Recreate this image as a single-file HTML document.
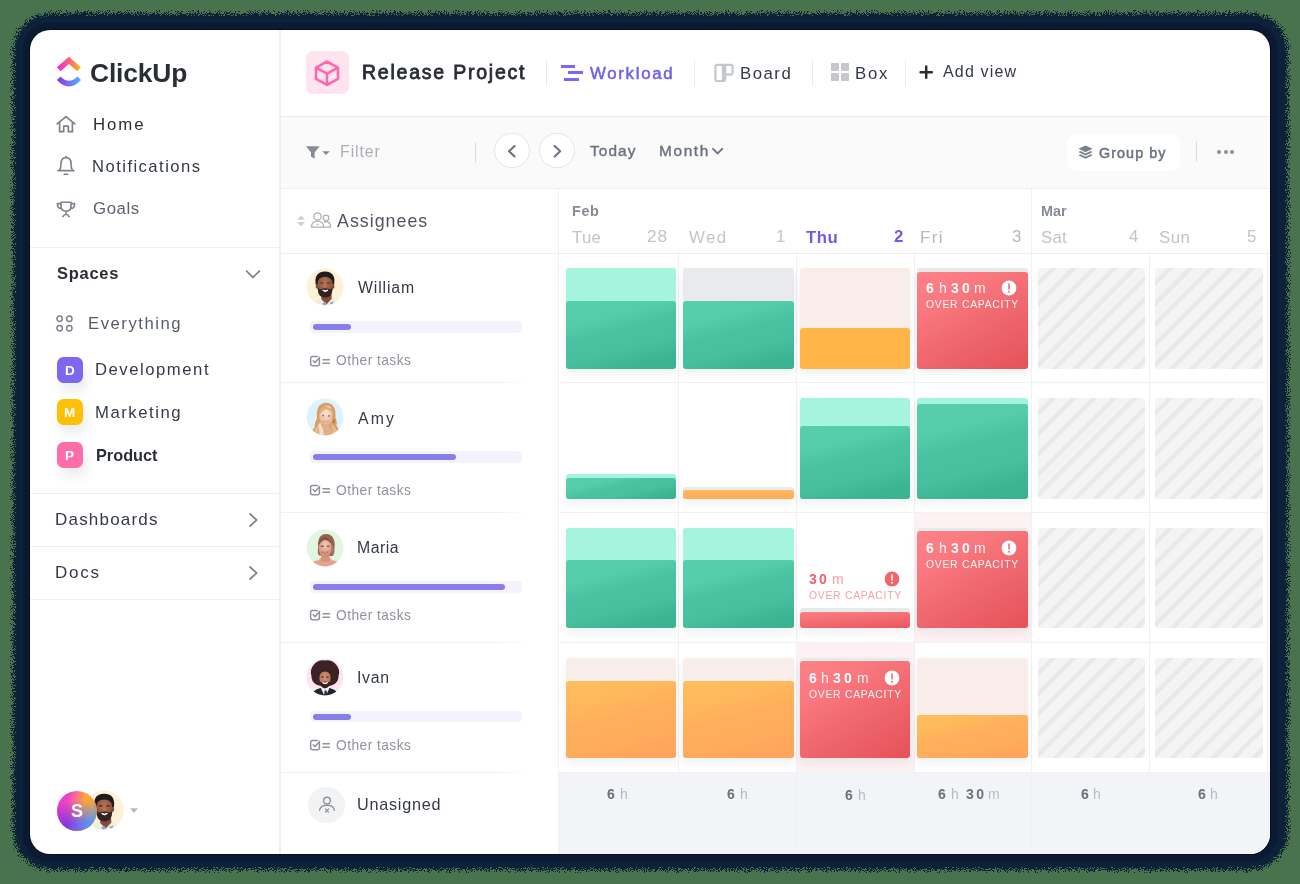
<!DOCTYPE html>
<html><head><meta charset="utf-8"><title>ClickUp Workload</title>
<style>
html,body{margin:0;padding:0}
body{width:1300px;height:884px;background:#49734d;position:relative;overflow:hidden;font-family:"Liberation Sans",sans-serif}
.t{position:absolute;white-space:nowrap;line-height:1;font-family:"Liberation Sans",sans-serif}
#shadow{position:absolute;left:13px;top:12.5px;width:1275px;height:857.5px;border-radius:38px;background:#112138;filter:url(#rough)}
#card{position:absolute;left:30px;top:30px;width:1240px;height:824px;border-radius:20px;background:#fff;overflow:hidden;box-shadow:0 0 0 1px #04102a,0 0 0 7.5px #0a1a33}
#in{position:absolute;left:-30px;top:-30px;width:1300px;height:884px;will-change:transform}
</style></head><body>
<svg width="0" height="0" style="position:absolute"><filter id="rough" x="-2%" y="-2%" width="104%" height="104%"><feTurbulence type="fractalNoise" baseFrequency="0.9" numOctaves="2" seed="7" result="n0"/><feComponentTransfer in="n0" result="n"><feFuncR type="linear" slope="3.2" intercept="-1.1"/><feFuncG type="linear" slope="3.2" intercept="-1.1"/></feComponentTransfer><feDisplacementMap in="SourceGraphic" in2="n" scale="6" xChannelSelector="R" yChannelSelector="G"/></filter></svg>
<div id="shadow"></div>
<div id="card"><div id="in">
<div style="position:absolute;left:279.00px;top:30.00px;width:2.00px;height:824.00px;background:#eff0f2"></div>
<div style="position:absolute;left:30.00px;top:247.00px;width:249.00px;height:1.00px;background:#eff0f2"></div>
<div style="position:absolute;left:30.00px;top:493.00px;width:249.00px;height:1.00px;background:#eff0f2"></div>
<div style="position:absolute;left:30.00px;top:546.00px;width:249.00px;height:1.00px;background:#eff0f2"></div>
<div style="position:absolute;left:30.00px;top:599.00px;width:249.00px;height:1.00px;background:#eff0f2"></div>
<div style="position:absolute;left:281.00px;top:116.00px;width:989.00px;height:72.50px;background:#fafafa;border-top:1.5px solid #e9eaec;border-bottom:1px solid #f0f0f2;box-sizing:border-box"></div>
<svg style="position:absolute;left:56.00px;top:56.00px;" width="26" height="32" viewBox="0 0 26 32"><defs>
<linearGradient id="lg1" x1="0" y1="0" x2="1" y2="0"><stop offset="0" stop-color="#ff1fe0"/><stop offset="0.5" stop-color="#f7607a"/><stop offset="1" stop-color="#ffbe0a"/></linearGradient>
<linearGradient id="lg2" x1="0" y1="0" x2="1" y2="0"><stop offset="0" stop-color="#7a35e8"/><stop offset="0.5" stop-color="#7b72f5"/><stop offset="1" stop-color="#49b4fb"/></linearGradient></defs>
<path d="M0.9 11.2 L13 0.7 L24.9 11.2 L21.3 15.3 L13 8 L4.5 15.3 Z" fill="url(#lg1)"/>
<path d="M0.9 24 L4.6 20.4 Q13 29.2 21.3 20.4 L25 24 Q13 37 0.9 24 Z" fill="url(#lg2)"/></svg>
<div class="t" style="left:90px;top:60px;font-size:26.4px;font-weight:700;color:#292d34;letter-spacing:-0.167px;">ClickUp</div>
<svg style="position:absolute;left:55.00px;top:114.00px;" width="22" height="20" viewBox="0 0 22 20"><path d="M2.2 9.9 L11 2.6 L19.8 9.9 M4.6 8.6 V17.7 H8.7 V12.2 H13.3 V17.7 H17.4 V8.6" fill="none" stroke="#7c828d" stroke-width="1.7" stroke-linecap="round" stroke-linejoin="round"/></svg>
<div class="t" style="left:93px;top:117px;font-size:16.8px;font-weight:400;color:#2a2e34;letter-spacing:1.933px;">Home</div>
<svg style="position:absolute;left:55.00px;top:154.00px;" width="22" height="24" viewBox="0 0 22 24"><path d="M3 16.6 H19 M4.6 16.4 Q6 14 6 9.5 Q6 3.6 11 3.6 Q16 3.6 16 9.5 Q16 14 17.4 16.4 M11 3.4 V2.4 M9.2 20.2 H12.8" fill="none" stroke="#7c828d" stroke-width="1.6" stroke-linecap="round" stroke-linejoin="round"/></svg>
<div class="t" style="left:92px;top:159px;font-size:16.6px;font-weight:400;color:#343a46;letter-spacing:1.467px;">Notifications</div>
<svg style="position:absolute;left:55.00px;top:199.00px;" width="22" height="20" viewBox="0 0 22 20"><path d="M6 3.2 H16 V7.6 Q16 12.2 11 12.2 Q6 12.2 6 7.6 Z M6 4.6 H2.4 Q2.2 9.4 6.4 9.6 M16 4.6 H19.6 Q19.8 9.4 15.6 9.6 M11 12.4 V14.6 M7.8 17.6 Q11 13 14.2 17.6" fill="none" stroke="#7c828d" stroke-width="1.6" stroke-linecap="round" stroke-linejoin="round"/></svg>
<div class="t" style="left:93px;top:201px;font-size:16.8px;font-weight:400;color:#5b626f;letter-spacing:0.600px;">Goals</div>
<div class="t" style="left:57px;top:265px;font-size:16.5px;font-weight:700;color:#2a2e34;letter-spacing:0.720px;">Spaces</div>
<svg style="position:absolute;left:244.00px;top:268.00px;" width="18" height="12" viewBox="0 0 18 12"><path d="M2.6 3.2 L9 9.4 L15.4 3.2" fill="none" stroke="#7c828d" stroke-width="1.7" stroke-linecap="round" stroke-linejoin="round"/></svg>
<svg style="position:absolute;left:55.00px;top:314.00px;" width="20" height="19" viewBox="0 0 20 19"><g fill="none" stroke="#7c828d" stroke-width="1.5"><circle cx="4.6" cy="4.7" r="2.7"/><circle cx="14.3" cy="4.7" r="2.7"/><circle cx="4.6" cy="14.2" r="2.7"/><circle cx="14.3" cy="14.2" r="2.7"/></g></svg>
<div class="t" style="left:88px;top:316px;font-size:16.7px;font-weight:400;color:#555c68;letter-spacing:1.533px;">Everything</div>
<div style="position:absolute;left:56.60px;top:356.50px;width:26.60px;height:26.60px;background:#7b68ee;border-radius:6.5px;box-shadow:3px 8px 11px rgba(60,70,90,0.10)"></div>
<div class="t" style="left:65px;top:364px;font-size:13.5px;font-weight:700;color:#fff;">D</div>
<div class="t" style="left:95px;top:362px;font-size:16.7px;font-weight:400;color:#343a46;letter-spacing:1.520px;">Development</div>
<div style="position:absolute;left:56.60px;top:398.90px;width:26.60px;height:26.60px;background:#fdc005;border-radius:6.5px;box-shadow:3px 8px 11px rgba(60,70,90,0.10)"></div>
<div class="t" style="left:64px;top:406px;font-size:13.5px;font-weight:700;color:#fff;">M</div>
<div class="t" style="left:95px;top:405px;font-size:16.7px;font-weight:400;color:#343a46;letter-spacing:1.525px;">Marketing</div>
<div style="position:absolute;left:56.60px;top:441.60px;width:26.60px;height:26.60px;background:#fd6daa;border-radius:6.5px;box-shadow:3px 8px 11px rgba(60,70,90,0.10)"></div>
<div class="t" style="left:65px;top:449px;font-size:13.5px;font-weight:700;color:#fff;">P</div>
<div class="t" style="left:96px;top:447px;font-size:16.3px;font-weight:700;color:#292d34;">Product</div>
<div class="t" style="left:55px;top:511px;font-size:17px;font-weight:400;color:#343a46;letter-spacing:1.200px;">Dashboards</div>
<svg style="position:absolute;left:246.00px;top:511.00px;" width="14" height="18" viewBox="0 0 14 18"><path d="M4 3 L10.6 9 L4 15" fill="none" stroke="#7c828d" stroke-width="1.7" stroke-linecap="round" stroke-linejoin="round"/></svg>
<div class="t" style="left:55px;top:564px;font-size:17px;font-weight:400;color:#343a46;letter-spacing:1.733px;">Docs</div>
<svg style="position:absolute;left:246.00px;top:564.00px;" width="14" height="18" viewBox="0 0 14 18"><path d="M4 3 L10.6 9 L4 15" fill="none" stroke="#7c828d" stroke-width="1.7" stroke-linecap="round" stroke-linejoin="round"/></svg>
<div style="position:absolute;left:306.00px;top:51.00px;width:42.50px;height:42.50px;background:#ffe3ee;border-radius:7px"></div>
<svg style="position:absolute;left:313.00px;top:58.50px;" width="28" height="28" viewBox="0 0 28 28"><path d="M14 2.6 L25 8.6 V19.8 L14 25.8 L3 19.8 V8.6 Z M3.4 8.9 L14 14.6 L24.6 8.9 M14 14.6 V25.4" fill="none" stroke="#ff66ae" stroke-width="2.5" stroke-linejoin="round" stroke-linecap="round"/></svg>
<div class="t" style="left:362px;top:63px;font-size:19.5px;font-weight:400;color:#292d34;letter-spacing:1.771px;-webkit-text-stroke:0.8px #292d34;">Release Project</div>
<div style="position:absolute;left:546.00px;top:59.50px;width:1.20px;height:26.00px;background:#eaebee"></div>
<div style="position:absolute;left:560.80px;top:64.60px;width:14.40px;height:3.40px;background:#7b68ee"></div>
<div style="position:absolute;left:567.90px;top:71.10px;width:15.60px;height:3.40px;background:#7b68ee"></div>
<div style="position:absolute;left:564.20px;top:77.50px;width:14.80px;height:3.30px;background:#7b68ee"></div>
<div class="t" style="left:590px;top:66px;font-size:16.8px;font-weight:400;color:#7161ea;letter-spacing:1.714px;-webkit-text-stroke:0.55px #7161ea;">Workload</div>
<div style="position:absolute;left:693.60px;top:59.50px;width:1.20px;height:26.00px;background:#eaebee"></div>
<svg style="position:absolute;left:714.00px;top:62.00px;" width="22" height="22" viewBox="0 0 22 22"><path d="M3.4 2.8 H16.6 Q18.6 2.8 18.6 4.8 V10.6 Q18.6 12.6 16.6 12.6 H11.2 V17 Q11.2 19 9.2 19 H3.4 Q1.4 19 1.4 17 V4.8 Q1.4 2.8 3.4 2.8 Z M9 3 V18.6 M11.2 3 V12.4" fill="none" stroke="#c3c6cb" stroke-width="2.2" stroke-linejoin="round"/></svg>
<div class="t" style="left:740px;top:66px;font-size:16.8px;font-weight:400;color:#343a46;letter-spacing:1.500px;">Board</div>
<div style="position:absolute;left:812.00px;top:59.50px;width:1.20px;height:26.00px;background:#eaebee"></div>
<div style="position:absolute;left:830.80px;top:63.00px;width:8.10px;height:7.60px;background:#c6c8cd;border-radius:1px"></div>
<div style="position:absolute;left:841.00px;top:63.00px;width:8.10px;height:7.60px;background:#c6c8cd;border-radius:1px"></div>
<div style="position:absolute;left:830.80px;top:73.20px;width:8.10px;height:7.60px;background:#c6c8cd;border-radius:1px"></div>
<div style="position:absolute;left:841.00px;top:73.20px;width:8.10px;height:7.60px;background:#c6c8cd;border-radius:1px"></div>
<div class="t" style="left:855px;top:66px;font-size:16.8px;font-weight:400;color:#343a46;letter-spacing:1.700px;">Box</div>
<div style="position:absolute;left:904.80px;top:59.50px;width:1.20px;height:26.00px;background:#eaebee"></div>
<svg style="position:absolute;left:918.00px;top:64.00px;" width="16" height="16" viewBox="0 0 16 16"><path d="M8.2 2.6 V13.8 M2.6 8.2 H13.8" stroke="#292d34" stroke-width="2.5" stroke-linecap="round" fill="none"/></svg>
<div class="t" style="left:943px;top:64px;font-size:16px;font-weight:400;color:#343a46;letter-spacing:1.171px;">Add view</div>
<svg style="position:absolute;left:305.00px;top:145.00px;" width="26" height="16" viewBox="0 0 26 16"><path d="M1 1.2 H14.6 L9.6 7.4 V13.8 L6 11.6 V7.4 Z" fill="#868b95"/><path d="M17.2 6.2 H24.8 L21 10 Z" fill="#868b95"/></svg>
<div class="t" style="left:340px;top:144px;font-size:15.9px;font-weight:400;color:#abafb7;letter-spacing:0.920px;">Filter</div>
<div style="position:absolute;left:475.00px;top:141.80px;width:1.20px;height:20.80px;background:#dcdee2"></div>
<div style="position:absolute;left:494.00px;top:132.80px;width:35.60px;height:35.60px;background:#fff;border-radius:50%;border:1.2px solid #e4e5ec;box-sizing:border-box"></div>
<svg style="position:absolute;left:503.80px;top:142.60px;" width="16" height="16" viewBox="0 0 16 16"><path d="M10.6 3 L5 8.2 L10.6 13.4" fill="none" stroke="#6b7280" stroke-width="2.1" stroke-linecap="round" stroke-linejoin="round"/></svg>
<div style="position:absolute;left:539.00px;top:132.80px;width:35.60px;height:35.60px;background:#fff;border-radius:50%;border:1.2px solid #e4e5ec;box-sizing:border-box"></div>
<svg style="position:absolute;left:548.80px;top:142.60px;" width="16" height="16" viewBox="0 0 16 16"><path d="M5.6 3 L11.2 8.2 L5.6 13.4" fill="none" stroke="#6b7280" stroke-width="2.1" stroke-linecap="round" stroke-linejoin="round"/></svg>
<div class="t" style="left:590px;top:143px;font-size:15.4px;font-weight:400;color:#6b7280;letter-spacing:1.100px;-webkit-text-stroke:0.4px #6b7280;">Today</div>
<div class="t" style="left:659px;top:143px;font-size:15.4px;font-weight:400;color:#6b7280;letter-spacing:1.625px;-webkit-text-stroke:0.4px #6b7280;">Month</div>
<svg style="position:absolute;left:710.00px;top:145.00px;" width="16" height="12" viewBox="0 0 16 12"><path d="M3 3.8 L7.6 8.4 L12.2 3.8" fill="none" stroke="#6b7280" stroke-width="1.9" stroke-linecap="round" stroke-linejoin="round"/></svg>
<div style="position:absolute;left:1067.00px;top:133.50px;width:113.00px;height:37.50px;background:#fff;border-radius:9px"></div>
<svg style="position:absolute;left:1077.00px;top:144.40px;" width="17" height="17" viewBox="0 0 17 17"><g fill="#7a808c"><path d="M8.5 1.4 L15.6 4.8 L8.5 8.2 L1.4 4.8 Z"/><path d="M1.4 8 L3.5 7 L8.5 9.4 L13.5 7 L15.6 8 L8.5 11.5 Z"/><path d="M1.4 11.3 L3.5 10.3 L8.5 12.7 L13.5 10.3 L15.6 11.3 L8.5 14.8 Z"/></g></svg>
<div class="t" style="left:1099px;top:146px;font-size:14.3px;font-weight:400;color:#6b7280;letter-spacing:1.086px;-webkit-text-stroke:0.5px #6b7280;">Group by</div>
<div style="position:absolute;left:1195.80px;top:141.30px;width:1.20px;height:21.20px;background:#dcdee2"></div>
<div style="position:absolute;left:1216.80px;top:149.50px;width:4.00px;height:4.00px;background:#8a8f99;border-radius:50%"></div>
<div style="position:absolute;left:1223.50px;top:149.50px;width:4.00px;height:4.00px;background:#8a8f99;border-radius:50%"></div>
<div style="position:absolute;left:1230.20px;top:149.50px;width:4.00px;height:4.00px;background:#8a8f99;border-radius:50%"></div>
<div style="position:absolute;left:281.00px;top:253.00px;width:989.00px;height:1.00px;background:#eff0f2"></div>
<svg style="position:absolute;left:296.00px;top:214.00px;" width="10" height="14" viewBox="0 0 10 14"><path d="M1 5.8 L5 1.6 L9 5.8 Z M1 8 L5 12.2 L9 8 Z" fill="#cdd0d5"/></svg>
<svg style="position:absolute;left:310.00px;top:211.00px;" width="22" height="18" viewBox="0 0 22 18"><g fill="none" stroke="#adb1b8" stroke-width="1.3" stroke-linejoin="round"><circle cx="7.6" cy="5.4" r="3.6"/><path d="M1.4 16.2 Q1.4 10.2 7.6 10.2 Q13.6 10.2 13.6 16.2 Z"/><circle cx="16" cy="7" r="2.8"/><path d="M13.8 11.2 Q16 10.4 18 11.2 Q20.6 12.4 20.6 16.2 H13.8"/><path d="M6.6 13.4 H8.6"/></g></svg>
<div class="t" style="left:337px;top:213px;font-size:17.8px;font-weight:400;color:#4f5560;letter-spacing:1.025px;">Assignees</div>
<div class="t" style="left:572px;top:204px;font-size:14.4px;font-weight:700;color:#868b95;letter-spacing:0.600px;">Feb</div>
<div class="t" style="left:1041px;top:204px;font-size:14.4px;font-weight:700;color:#868b95;">Mar</div>
<div class="t" style="left:572px;top:230px;font-size:16.8px;font-weight:400;color:#c1c4ca;letter-spacing:0.250px;">Tue</div>
<div class="t" style="left:647px;top:228px;font-size:17.2px;font-weight:400;color:#c1c4ca;letter-spacing:1.000px;">28</div>
<div class="t" style="left:689px;top:230px;font-size:16.8px;font-weight:400;color:#c1c4ca;letter-spacing:1.400px;">Wed</div>
<div class="t" style="left:776px;top:229px;font-size:16.8px;font-weight:400;color:#c1c4ca;">1</div>
<div class="t" style="left:806px;top:230px;font-size:16.8px;font-weight:700;color:#6f5be9;letter-spacing:0.550px;">Thu</div>
<div class="t" style="left:894px;top:229px;font-size:16.8px;font-weight:700;color:#6f5be9;">2</div>
<div class="t" style="left:920px;top:230px;font-size:16.8px;font-weight:400;color:#b3b7be;letter-spacing:1.400px;">Fri</div>
<div class="t" style="left:1012px;top:229px;font-size:16.8px;font-weight:400;color:#b3b7be;">3</div>
<div class="t" style="left:1041px;top:230px;font-size:16.8px;font-weight:400;color:#c1c4ca;letter-spacing:0.200px;">Sat</div>
<div class="t" style="left:1129px;top:229px;font-size:16.8px;font-weight:400;color:#c1c4ca;">4</div>
<div class="t" style="left:1159px;top:230px;font-size:16.8px;font-weight:400;color:#c1c4ca;letter-spacing:0.450px;">Sun</div>
<div class="t" style="left:1247px;top:229px;font-size:16.8px;font-weight:400;color:#c1c4ca;">5</div>
<div style="position:absolute;left:914.90px;top:513.00px;width:116.30px;height:129.50px;background:#fdf1f3"></div>
<div style="position:absolute;left:796.90px;top:643.00px;width:117.50px;height:129.20px;background:#fdf1f3"></div>
<div style="position:absolute;left:558.80px;top:772.20px;width:712.00px;height:82.00px;background:#f3f4f7"></div>
<div style="position:absolute;left:557.80px;top:188.50px;width:1.00px;height:666.00px;background:#f0f1f4"></div>
<div style="position:absolute;left:1030.70px;top:188.50px;width:1.00px;height:666.00px;background:#f0f1f4"></div>
<div style="position:absolute;left:677.50px;top:250.00px;width:1.00px;height:604.00px;background:#f0f1f4"></div>
<div style="position:absolute;left:795.90px;top:250.00px;width:1.00px;height:604.00px;background:#f0f1f4"></div>
<div style="position:absolute;left:913.90px;top:250.00px;width:1.00px;height:604.00px;background:#f0f1f4"></div>
<div style="position:absolute;left:1149.00px;top:250.00px;width:1.00px;height:604.00px;background:#f0f1f4"></div>
<div style="position:absolute;left:1266.90px;top:250.00px;width:1.00px;height:604.00px;background:#f0f1f4"></div>
<div style="position:absolute;left:558.80px;top:382.30px;width:709.00px;height:1.00px;background:#f0f1f4"></div>
<div style="position:absolute;left:558.80px;top:512.00px;width:709.00px;height:1.00px;background:#f0f1f4"></div>
<div style="position:absolute;left:558.80px;top:642.00px;width:709.00px;height:1.00px;background:#f0f1f4"></div>
<div style="position:absolute;left:558.80px;top:771.70px;width:709.00px;height:1.00px;background:#f0f1f4"></div>
<div style="position:absolute;left:281.00px;top:382.30px;width:247.00px;height:1.00px;background:linear-gradient(90deg,#f0f1f4 0,#f0f1f4 88%,rgba(236,237,240,0) 100%)"></div>
<div style="position:absolute;left:281.00px;top:512.00px;width:247.00px;height:1.00px;background:linear-gradient(90deg,#f0f1f4 0,#f0f1f4 88%,rgba(236,237,240,0) 100%)"></div>
<div style="position:absolute;left:281.00px;top:642.00px;width:247.00px;height:1.00px;background:linear-gradient(90deg,#f0f1f4 0,#f0f1f4 88%,rgba(236,237,240,0) 100%)"></div>
<div style="position:absolute;left:281.00px;top:771.70px;width:247.00px;height:1.00px;background:linear-gradient(90deg,#f0f1f4 0,#f0f1f4 88%,rgba(236,237,240,0) 100%)"></div>
<div style="position:absolute;left:565.50px;top:268.00px;width:110.70px;height:100.70px;background:#a4f4de;border-radius:3px;box-shadow:0 5px 9px rgba(40,50,70,0.07);"></div>
<div style="position:absolute;left:565.50px;top:301.00px;width:110.70px;height:67.70px;background:linear-gradient(166deg,#56ceac 0%,#55cdab 27%,#4ac1a0 44%,#48bf9f 66%,#3db493 84%,#3ab190 100%);border-radius:3px"></div>
<div style="position:absolute;left:683.00px;top:268.00px;width:110.90px;height:100.70px;background:#e9eaee;border-radius:3px;box-shadow:0 5px 9px rgba(40,50,70,0.07);"></div>
<div style="position:absolute;left:683.00px;top:301.00px;width:110.90px;height:67.70px;background:linear-gradient(166deg,#56ceac 0%,#55cdab 27%,#4ac1a0 44%,#48bf9f 66%,#3db493 84%,#3ab190 100%);border-radius:3px"></div>
<div style="position:absolute;left:800.00px;top:268.00px;width:110.20px;height:100.70px;background:#f8ede9;border-radius:3px;box-shadow:0 5px 9px rgba(40,50,70,0.07);"></div>
<div style="position:absolute;left:800.00px;top:327.60px;width:110.20px;height:41.10px;background:#ffb547;border-radius:3px"></div>
<div style="position:absolute;left:917.40px;top:268.00px;width:110.50px;height:100.70px;background:#e5ebeb;border-radius:3px;box-shadow:0 5px 9px rgba(40,50,70,0.07);"></div>
<div style="position:absolute;left:917.40px;top:271.80px;width:110.50px;height:96.90px;background:linear-gradient(150deg,#fe8187 0%,#fa7980 25%,#f26b72 50%,#eb5e65 75%,#e5525a 100%);border-radius:3px"></div>
<div class="t" style="left:926px;top:281px;font-size:14px;font-weight:700;color:#fff;">6</div>
<div class="t" style="left:939px;top:281px;font-size:14px;font-weight:400;color:rgba(255,255,255,0.92);">h</div>
<div class="t" style="left:951px;top:281px;font-size:14px;font-weight:700;color:#fff;letter-spacing:3.200px;">30</div>
<div class="t" style="left:974px;top:281px;font-size:14px;font-weight:400;color:rgba(255,255,255,0.92);">m</div>
<div class="t" style="left:926px;top:300px;font-size:10.4px;font-weight:400;color:rgba(255,255,255,0.92);letter-spacing:0.717px;">OVER CAPACITY</div>
<svg style="position:absolute;left:1001.40px;top:279.60px;" width="16" height="16" viewBox="0 0 16 16"><circle cx="8" cy="8" r="7.4" fill="#fff"/><path d="M8 4 V9" stroke="#f0656c" stroke-width="1.5" stroke-linecap="round"/><circle cx="8" cy="11.7" r="0.95" fill="#f0656c"/></svg>
<div style="position:absolute;left:1037.50px;top:268.00px;width:107.80px;height:100.70px;background:repeating-linear-gradient(135deg,#f4f4f4 0,#f4f4f4 8.5px,#e9e9e9 9px,#e9e9e9 13px,#f4f4f4 13.5px,#f4f4f4 14.4px);border-radius:3px"></div>
<div style="position:absolute;left:1155.20px;top:268.00px;width:108.00px;height:100.70px;background:repeating-linear-gradient(135deg,#f4f4f4 0,#f4f4f4 8.5px,#e9e9e9 9px,#e9e9e9 13px,#f4f4f4 13.5px,#f4f4f4 14.4px);border-radius:3px"></div>
<div style="position:absolute;left:565.50px;top:474.20px;width:110.70px;height:24.40px;background:#a4f4de;border-radius:3px;box-shadow:0 5px 9px rgba(40,50,70,0.07);"></div>
<div style="position:absolute;left:565.50px;top:478.00px;width:110.70px;height:20.60px;background:linear-gradient(166deg,#56ceac 0%,#55cdab 27%,#4ac1a0 44%,#48bf9f 66%,#3db493 84%,#3ab190 100%);border-radius:3px"></div>
<div style="position:absolute;left:683.00px;top:486.60px;width:110.90px;height:12.00px;background:#e9eaee;border-radius:3px;box-shadow:0 5px 9px rgba(40,50,70,0.07);"></div>
<div style="position:absolute;left:683.00px;top:490.20px;width:110.90px;height:8.40px;background:linear-gradient(180deg,#ffb85c,#ffab5c);border-radius:3px"></div>
<div style="position:absolute;left:800.00px;top:398.00px;width:110.20px;height:100.60px;background:#a4f4de;border-radius:3px;box-shadow:0 5px 9px rgba(40,50,70,0.07);"></div>
<div style="position:absolute;left:800.00px;top:426.30px;width:110.20px;height:72.30px;background:linear-gradient(166deg,#56ceac 0%,#55cdab 27%,#4ac1a0 44%,#48bf9f 66%,#3db493 84%,#3ab190 100%);border-radius:3px"></div>
<div style="position:absolute;left:917.40px;top:398.00px;width:110.50px;height:100.60px;background:#a4f4de;border-radius:3px;box-shadow:0 5px 9px rgba(40,50,70,0.07);"></div>
<div style="position:absolute;left:917.40px;top:404.00px;width:110.50px;height:94.60px;background:linear-gradient(166deg,#56ceac 0%,#55cdab 27%,#4ac1a0 44%,#48bf9f 66%,#3db493 84%,#3ab190 100%);border-radius:3px"></div>
<div style="position:absolute;left:1037.50px;top:398.00px;width:107.80px;height:100.60px;background:repeating-linear-gradient(135deg,#f4f4f4 0,#f4f4f4 8.5px,#e9e9e9 9px,#e9e9e9 13px,#f4f4f4 13.5px,#f4f4f4 14.4px);border-radius:3px"></div>
<div style="position:absolute;left:1155.20px;top:398.00px;width:108.00px;height:100.60px;background:repeating-linear-gradient(135deg,#f4f4f4 0,#f4f4f4 8.5px,#e9e9e9 9px,#e9e9e9 13px,#f4f4f4 13.5px,#f4f4f4 14.4px);border-radius:3px"></div>
<div style="position:absolute;left:565.50px;top:527.70px;width:110.70px;height:100.10px;background:#a4f4de;border-radius:3px;box-shadow:0 5px 9px rgba(40,50,70,0.07);"></div>
<div style="position:absolute;left:565.50px;top:560.40px;width:110.70px;height:67.40px;background:linear-gradient(166deg,#56ceac 0%,#55cdab 27%,#4ac1a0 44%,#48bf9f 66%,#3db493 84%,#3ab190 100%);border-radius:3px"></div>
<div style="position:absolute;left:683.00px;top:527.70px;width:110.90px;height:100.10px;background:#a4f4de;border-radius:3px;box-shadow:0 5px 9px rgba(40,50,70,0.07);"></div>
<div style="position:absolute;left:683.00px;top:560.40px;width:110.90px;height:67.40px;background:linear-gradient(166deg,#56ceac 0%,#55cdab 27%,#4ac1a0 44%,#48bf9f 66%,#3db493 84%,#3ab190 100%);border-radius:3px"></div>
<div style="position:absolute;left:800.00px;top:608.20px;width:110.20px;height:19.80px;background:#e5ebeb;border-radius:3px;box-shadow:0 5px 9px rgba(40,50,70,0.07);"></div>
<div style="position:absolute;left:800.00px;top:611.50px;width:110.20px;height:16.50px;background:linear-gradient(176deg,#fd7f85 0%,#e9575e 100%);border-radius:3px"></div>
<div class="t" style="left:809px;top:572px;font-size:14px;font-weight:700;color:#f0616a;letter-spacing:2.100px;">30</div>
<div class="t" style="left:832px;top:572px;font-size:14px;font-weight:400;color:#f6a0a5;">m</div>
<div class="t" style="left:809px;top:591px;font-size:10.4px;font-weight:400;color:#f6a0a5;letter-spacing:0.717px;">OVER CAPACITY</div>
<svg style="position:absolute;left:884.00px;top:570.60px;" width="16" height="16" viewBox="0 0 16 16"><circle cx="8" cy="8" r="7.4" fill="#f0656c"/><path d="M8 4 V9" stroke="#fff" stroke-width="1.5" stroke-linecap="round"/><circle cx="8" cy="11.7" r="0.95" fill="#fff"/></svg>
<div style="position:absolute;left:917.40px;top:527.70px;width:110.50px;height:100.10px;background:#e5ebeb;border-radius:3px;box-shadow:0 5px 9px rgba(40,50,70,0.07);"></div>
<div style="position:absolute;left:917.40px;top:531.30px;width:110.50px;height:96.50px;background:linear-gradient(150deg,#fe8187 0%,#fa7980 25%,#f26b72 50%,#eb5e65 75%,#e5525a 100%);border-radius:3px"></div>
<div class="t" style="left:926px;top:541px;font-size:14px;font-weight:700;color:#fff;">6</div>
<div class="t" style="left:939px;top:541px;font-size:14px;font-weight:400;color:rgba(255,255,255,0.92);">h</div>
<div class="t" style="left:951px;top:541px;font-size:14px;font-weight:700;color:#fff;letter-spacing:3.200px;">30</div>
<div class="t" style="left:974px;top:541px;font-size:14px;font-weight:400;color:rgba(255,255,255,0.92);">m</div>
<div class="t" style="left:926px;top:560px;font-size:10.4px;font-weight:400;color:rgba(255,255,255,0.92);letter-spacing:0.717px;">OVER CAPACITY</div>
<svg style="position:absolute;left:1001.40px;top:539.60px;" width="16" height="16" viewBox="0 0 16 16"><circle cx="8" cy="8" r="7.4" fill="#fff"/><path d="M8 4 V9" stroke="#f0656c" stroke-width="1.5" stroke-linecap="round"/><circle cx="8" cy="11.7" r="0.95" fill="#f0656c"/></svg>
<div style="position:absolute;left:1037.50px;top:527.70px;width:107.80px;height:100.10px;background:repeating-linear-gradient(135deg,#f4f4f4 0,#f4f4f4 8.5px,#e9e9e9 9px,#e9e9e9 13px,#f4f4f4 13.5px,#f4f4f4 14.4px);border-radius:3px"></div>
<div style="position:absolute;left:1155.20px;top:527.70px;width:108.00px;height:100.10px;background:repeating-linear-gradient(135deg,#f4f4f4 0,#f4f4f4 8.5px,#e9e9e9 9px,#e9e9e9 13px,#f4f4f4 13.5px,#f4f4f4 14.4px);border-radius:3px"></div>
<div style="position:absolute;left:565.50px;top:657.70px;width:110.70px;height:100.10px;background:#f8ede9;border-radius:3px;box-shadow:0 5px 9px rgba(40,50,70,0.07);"></div>
<div style="position:absolute;left:565.50px;top:680.70px;width:110.70px;height:77.10px;background:linear-gradient(166deg,#ffbc5c 0%,#ffba5c 22%,#ffaf5c 46%,#ffad5c 66%,#ffa65c 86%,#ffa45b 100%);border-radius:3px"></div>
<div style="position:absolute;left:683.00px;top:657.70px;width:110.90px;height:100.10px;background:#f8ede9;border-radius:3px;box-shadow:0 5px 9px rgba(40,50,70,0.07);"></div>
<div style="position:absolute;left:683.00px;top:680.70px;width:110.90px;height:77.10px;background:linear-gradient(166deg,#ffbc5c 0%,#ffba5c 22%,#ffaf5c 46%,#ffad5c 66%,#ffa65c 86%,#ffa45b 100%);border-radius:3px"></div>
<div style="position:absolute;left:800.00px;top:657.70px;width:110.20px;height:100.10px;background:#e5ebeb;border-radius:3px;box-shadow:0 5px 9px rgba(40,50,70,0.07);"></div>
<div style="position:absolute;left:800.00px;top:661.30px;width:110.20px;height:96.50px;background:linear-gradient(150deg,#fe8187 0%,#fa7980 25%,#f26b72 50%,#eb5e65 75%,#e5525a 100%);border-radius:3px"></div>
<div class="t" style="left:809px;top:671px;font-size:14px;font-weight:700;color:#fff;">6</div>
<div class="t" style="left:821px;top:671px;font-size:14px;font-weight:400;color:rgba(255,255,255,0.92);">h</div>
<div class="t" style="left:833px;top:671px;font-size:14px;font-weight:700;color:#fff;letter-spacing:3.200px;">30</div>
<div class="t" style="left:857px;top:671px;font-size:14px;font-weight:400;color:rgba(255,255,255,0.92);">m</div>
<div class="t" style="left:809px;top:690px;font-size:10.4px;font-weight:400;color:rgba(255,255,255,0.92);letter-spacing:0.717px;">OVER CAPACITY</div>
<svg style="position:absolute;left:884.00px;top:669.60px;" width="16" height="16" viewBox="0 0 16 16"><circle cx="8" cy="8" r="7.4" fill="#fff"/><path d="M8 4 V9" stroke="#f0656c" stroke-width="1.5" stroke-linecap="round"/><circle cx="8" cy="11.7" r="0.95" fill="#f0656c"/></svg>
<div style="position:absolute;left:917.40px;top:657.70px;width:110.50px;height:100.10px;background:#f8ede9;border-radius:3px;box-shadow:0 5px 9px rgba(40,50,70,0.07);"></div>
<div style="position:absolute;left:917.40px;top:714.50px;width:110.50px;height:43.30px;background:linear-gradient(166deg,#ffbc5c 0%,#ffba5c 22%,#ffaf5c 46%,#ffad5c 66%,#ffa65c 86%,#ffa45b 100%);border-radius:3px"></div>
<div style="position:absolute;left:1037.50px;top:657.70px;width:107.80px;height:100.10px;background:repeating-linear-gradient(135deg,#f4f4f4 0,#f4f4f4 8.5px,#e9e9e9 9px,#e9e9e9 13px,#f4f4f4 13.5px,#f4f4f4 14.4px);border-radius:3px"></div>
<div style="position:absolute;left:1155.20px;top:657.70px;width:108.00px;height:100.10px;background:repeating-linear-gradient(135deg,#f4f4f4 0,#f4f4f4 8.5px,#e9e9e9 9px,#e9e9e9 13px,#f4f4f4 13.5px,#f4f4f4 14.4px);border-radius:3px"></div>
<div class="t" style="left:607px;top:787px;font-size:14px;font-weight:700;color:#6d727a;">6</div>
<div class="t" style="left:620px;top:787px;font-size:14px;font-weight:400;color:#b7bbc1;">h</div>
<div class="t" style="left:727px;top:787px;font-size:14px;font-weight:700;color:#6d727a;">6</div>
<div class="t" style="left:740px;top:787px;font-size:14px;font-weight:400;color:#b7bbc1;">h</div>
<div class="t" style="left:845px;top:788px;font-size:14px;font-weight:700;color:#6d727a;">6</div>
<div class="t" style="left:858px;top:788px;font-size:14px;font-weight:400;color:#b7bbc1;">h</div>
<div class="t" style="left:938px;top:787px;font-size:14px;font-weight:700;color:#6d727a;">6</div>
<div class="t" style="left:951px;top:787px;font-size:14px;font-weight:400;color:#b7bbc1;">h</div>
<div class="t" style="left:966px;top:787px;font-size:14px;font-weight:700;color:#6d727a;letter-spacing:2.500px;">30</div>
<div class="t" style="left:988px;top:787px;font-size:14px;font-weight:400;color:#b7bbc1;">m</div>
<div class="t" style="left:1081px;top:787px;font-size:14px;font-weight:700;color:#6d727a;">6</div>
<div class="t" style="left:1093px;top:787px;font-size:14px;font-weight:400;color:#b7bbc1;">h</div>
<div class="t" style="left:1198px;top:787px;font-size:14px;font-weight:700;color:#6d727a;">6</div>
<div class="t" style="left:1210px;top:787px;font-size:14px;font-weight:400;color:#b7bbc1;">h</div>
<svg style="position:absolute;left:304.60px;top:267.40px;" width="40.0" height="40.0" viewBox="0 0 40 40"><defs><clipPath id="cw1"><circle cx="20" cy="20" r="18.5"/></clipPath>
<filter id="cw1b" x="-10%" y="-10%" width="120%" height="120%"><feGaussianBlur stdDeviation="0.55"/></filter>
<radialGradient id="cw1g" cx="0.48" cy="0.3" r="0.7"><stop offset="0" stop-color="#b4775a"/><stop offset="0.55" stop-color="#99593f"/><stop offset="1" stop-color="#7c4632"/></radialGradient></defs>
<circle cx="20" cy="20" r="18.5" fill="#fdf1d6"/>
<g clip-path="url(#cw1)"><g filter="url(#cw1b)">
<path d="M8 40 Q9 32.4 15.4 31 L21.6 35.6 L27.6 30.6 Q33 32 34 40 Z" fill="#edf0da"/>
<path d="M16.6 27 L16.2 32 L21.4 37.4 L26.8 31.6 L26.4 26 Z" fill="#86493a"/>
<path d="M17 36.4 L20.4 34.8 L21.6 37.4 L19 38.6 Z M25 35.6 L28.6 34.4 L28.2 37 L25.4 37.6 Z" fill="#8fa3d9"/>
<path d="M10.6 17.4 Q9.4 8 15 5.4 Q20 3.4 25 5.4 Q30.6 8 29.2 17.4 Q27.6 18.4 20 18 Q12.4 18.4 10.6 17.4 Z" fill="#1f1a1e"/>
<ellipse cx="12" cy="19.4" rx="1.3" ry="2.2" fill="#8a4f39"/><ellipse cx="28.2" cy="19.4" rx="1.3" ry="2.2" fill="#8a4f39"/>
<path d="M12.6 16 Q13 10 20 9.8 Q27 10 27.6 16 L27.6 22 Q27 30.4 20.2 30.6 Q13.2 30.4 12.6 22 Z" fill="url(#cw1g)"/>
<path d="M12.7 19 Q12.6 26.6 15.6 29.2 Q20.2 32 24.8 29.2 Q27.6 26.6 27.6 19 Q26.8 22.6 24.6 22.2 Q20.2 20.4 15.6 22.2 Q13.4 22.6 12.7 19 Z" fill="#2b1f22" opacity="0.93"/>
<path d="M17.6 23.2 Q20.2 26 23 23.2 Q20.2 23.8 17.6 23.2 Z" fill="#fff" stroke="#fff" stroke-width="0.9"/>
<path d="M15 16.2 Q16.8 15.2 18.6 16.2 M21.8 16.2 Q23.6 15.2 25.4 16.2" stroke="#3a2220" stroke-width="1.1" fill="none" opacity="0.85"/>
<ellipse cx="20" cy="19.4" rx="1.2" ry="1" fill="#c98566" opacity="0.7"/>
</g></g></svg>
<div class="t" style="left:358px;top:280px;font-size:15.8px;font-weight:400;color:#343a46;letter-spacing:0.883px;">William</div>
<div style="position:absolute;left:310.10px;top:320.90px;width:212.00px;height:11.70px;background:#f3f2fd;border-radius:4px"></div>
<div style="position:absolute;left:313.10px;top:323.80px;width:37.90px;height:6.00px;background:#8a7fe9;border-radius:3px"></div>
<svg style="position:absolute;left:309.00px;top:353.50px;" width="24" height="14" viewBox="0 0 24 14"><g fill="none" stroke="#8e939c" stroke-width="1.5" stroke-linecap="round" stroke-linejoin="round"><path d="M10.4 5 V9.8 Q10.4 11.8 8.4 11.8 H3.6 Q1.6 11.8 1.6 9.8 V4.4 Q1.6 2.4 3.6 2.4 H8.4"/><path d="M4.2 6.8 L6 8.6 L10.6 3.4"/><path d="M14 5.8 H20.4 M14 9.2 H20.4"/></g></svg>
<div class="t" style="left:336px;top:354px;font-size:13.75px;font-weight:400;color:#8e939c;letter-spacing:0.460px;">Other tasks</div>
<svg style="position:absolute;left:304.50px;top:396.50px;" width="40" height="40" viewBox="0 0 40 40"><defs><clipPath id="cam"><circle cx="20" cy="20" r="18.5"/></clipPath><filter id="camb" x="-10%" y="-10%" width="120%" height="120%"><feGaussianBlur stdDeviation="0.55"/></filter>
<radialGradient id="camg" cx="0.5" cy="0.3" r="0.75"><stop offset="0" stop-color="#fbe3d0"/><stop offset="0.6" stop-color="#f0c2a2"/><stop offset="1" stop-color="#dc9f80"/></radialGradient></defs>
<circle cx="20" cy="20" r="18.5" fill="#def2fd"/>
<g clip-path="url(#cam)"><g filter="url(#camb)">
<path d="M12 21 Q10.6 9 17.4 6.4 Q23 4.4 27.2 8 Q31.4 12 30.4 20 Q32.4 25 31.6 29 Q35 33 33 38.6 H7.6 Q5.6 34.4 9.4 30.6 Q9.8 25.6 12 21 Z" fill="#d79d68"/>
<path d="M13 28 Q9 31 8.6 37 L14 38 Q12.4 33 15 29 Z M27 27 Q32.6 31 32 37.6 L26.6 38 Q28.6 32 26 28.6 Z" fill="#e6bb8c"/>
<path d="M15 38.6 Q15 32 17.4 29 L24 28.6 Q27.4 32 27 38.6 Z" fill="#e3ad8d"/>
<path d="M14.2 19 Q14.2 10.6 21 10.2 Q27.6 10.8 27.6 19 Q27.6 28.6 21 29.4 Q14.2 28.6 14.2 19 Z" fill="url(#camg)"/>
<path d="M13.6 19 Q14 9.6 21 9 Q28.4 9.6 28.4 18.4 Q25.8 13 21.4 12.2 Q16.6 13.2 13.6 19 Z" fill="#e0ad78"/>
<path d="M19.4 8.6 Q24.6 8 27 12 Q24 10.4 19.4 8.6 Z" fill="#f3dcbc"/>
<path d="M13.2 27 Q14.4 31 14.4 38 L18.8 38.4 Q18.4 31.6 15.6 26 Z" fill="#f7e0cb"/>
<path d="M18.4 24.2 Q21 26.8 24 24 Q21 25 18.4 24.2 Z" fill="#fff" stroke="#c98a78" stroke-width="0.6"/>
<circle cx="18.2" cy="18.6" r="0.9" fill="#5f6f9c"/><circle cx="24" cy="18.9" r="0.9" fill="#5f6f9c"/>
<path d="M28.4 26 Q29.4 24.6 29 22.6" stroke="#7c5a4a" stroke-width="1" fill="none"/>
</g></g></svg>
<div class="t" style="left:358px;top:411px;font-size:15.8px;font-weight:400;color:#343a46;letter-spacing:2.100px;">Amy</div>
<div style="position:absolute;left:310.10px;top:450.90px;width:212.00px;height:11.70px;background:#f3f2fd;border-radius:4px"></div>
<div style="position:absolute;left:313.10px;top:453.80px;width:143.40px;height:6.00px;background:#8a7fe9;border-radius:3px"></div>
<svg style="position:absolute;left:309.00px;top:483.30px;" width="24" height="14" viewBox="0 0 24 14"><g fill="none" stroke="#8e939c" stroke-width="1.5" stroke-linecap="round" stroke-linejoin="round"><path d="M10.4 5 V9.8 Q10.4 11.8 8.4 11.8 H3.6 Q1.6 11.8 1.6 9.8 V4.4 Q1.6 2.4 3.6 2.4 H8.4"/><path d="M4.2 6.8 L6 8.6 L10.6 3.4"/><path d="M14 5.8 H20.4 M14 9.2 H20.4"/></g></svg>
<div class="t" style="left:336px;top:484px;font-size:13.75px;font-weight:400;color:#8e939c;letter-spacing:0.460px;">Other tasks</div>
<svg style="position:absolute;left:304.60px;top:527.50px;" width="40" height="40" viewBox="0 0 40 40"><defs><clipPath id="cma"><circle cx="20" cy="20" r="18.5"/></clipPath><filter id="cmab" x="-10%" y="-10%" width="120%" height="120%"><feGaussianBlur stdDeviation="0.55"/></filter>
<radialGradient id="cmag" cx="0.52" cy="0.3" r="0.75"><stop offset="0" stop-color="#f1c9b3"/><stop offset="0.6" stop-color="#dda189"/><stop offset="1" stop-color="#c4826c"/></radialGradient></defs>
<circle cx="20" cy="20" r="18.5" fill="#e1f5e1"/>
<g clip-path="url(#cma)"><g filter="url(#cmab)">
<path d="M13.2 20 Q11.8 9.6 17.8 6.6 Q23.4 4.8 27.2 8.4 Q30.6 12.6 29.4 21 Q30 25.6 27.4 28 L14 27.4 Q12 24.6 13.2 20 Z" fill="#96634d"/>
<path d="M3 40 Q5 33.4 13.6 32 L16.6 29 H24 L27 32 Q35.4 33.4 37.6 40 Z" fill="#e2a58f"/>
<path d="M16.4 26 H24.2 L24.8 33 Q20.4 35 15.8 33 Z" fill="#d4957e"/>
<path d="M13.6 19.6 Q13.4 10.6 20 10 Q26.6 10.4 26.8 19 Q26.6 28.6 20.2 29.6 Q14 28.6 13.6 19.6 Z" fill="url(#cmag)"/>
<path d="M13.2 18.8 Q13.2 9.8 19.8 9 Q26 9.2 27.2 17.6 Q24.4 12.4 19.8 12 Q15.6 13 13.2 18.8 Z" fill="#855642"/>
<path d="M27.2 17.6 Q29.6 21 28.4 25 Q27 27.4 26.4 25 Q27.6 21.6 27.2 17.6 Z" fill="#a87a62"/>
<path d="M16.8 24 Q20 27.2 23.4 23.8 Q20 25 16.8 24 Z" fill="#fff" stroke="#a85a50" stroke-width="0.7"/>
<path d="M15.8 18.2 H18.6 M21.8 18.2 H24.6" stroke="#55362f" stroke-width="1"/>
<path d="M5 35.6 L7.4 38.8 M35.4 35.2 L32.6 38.8" stroke="#3a3f55" stroke-width="1.4"/>
</g></g></svg>
<div class="t" style="left:357px;top:540px;font-size:15.8px;font-weight:400;color:#343a46;letter-spacing:0.500px;">Maria</div>
<div style="position:absolute;left:310.10px;top:580.90px;width:212.00px;height:11.70px;background:#f3f2fd;border-radius:4px"></div>
<div style="position:absolute;left:313.10px;top:583.80px;width:191.90px;height:6.00px;background:#8a7fe9;border-radius:3px"></div>
<svg style="position:absolute;left:309.00px;top:608.10px;" width="24" height="14" viewBox="0 0 24 14"><g fill="none" stroke="#8e939c" stroke-width="1.5" stroke-linecap="round" stroke-linejoin="round"><path d="M10.4 5 V9.8 Q10.4 11.8 8.4 11.8 H3.6 Q1.6 11.8 1.6 9.8 V4.4 Q1.6 2.4 3.6 2.4 H8.4"/><path d="M4.2 6.8 L6 8.6 L10.6 3.4"/><path d="M14 5.8 H20.4 M14 9.2 H20.4"/></g></svg>
<div class="t" style="left:336px;top:609px;font-size:13.75px;font-weight:400;color:#8e939c;letter-spacing:0.460px;">Other tasks</div>
<svg style="position:absolute;left:304.70px;top:656.50px;" width="40" height="40" viewBox="0 0 40 40"><defs><clipPath id="civ"><circle cx="20" cy="20" r="18.5"/></clipPath><filter id="civb" x="-10%" y="-10%" width="120%" height="120%"><feGaussianBlur stdDeviation="0.55"/></filter>
<radialGradient id="civg" cx="0.5" cy="0.35" r="0.7"><stop offset="0" stop-color="#d39473"/><stop offset="1" stop-color="#a9694d"/></radialGradient></defs>
<circle cx="20" cy="20" r="18.5" fill="#fce5f1"/>
<g clip-path="url(#civ)"><g filter="url(#civb)">
<path d="M6 40 Q7.6 32.6 15.4 31 L24.6 31 Q32.4 32.6 34 40 Z" fill="#24272d"/>
<path d="M15.6 30.6 L19.4 38.8 H21 L24.6 30.6 Z" fill="#fbeff3"/>
<path d="M19.6 33.4 H21.6 L22.2 38.8 H19 Z" fill="#2b2e35"/>
<path d="M20 3.4 Q27.4 2.4 31.4 8 Q35.4 12.6 33.6 18.6 Q33.8 24.6 28.8 27.6 Q25 29.6 20 28.6 Q15 29.6 11.2 27.6 Q6.2 24.6 6.4 18.6 Q4.6 12.6 8.6 8 Q12.6 2.4 20 3.4 Z" fill="#3b2427"/>
<path d="M14.4 21 Q14.4 14.8 20 14.6 Q25.6 14.8 25.6 21 Q25.6 29.4 20 30.4 Q14.4 29.4 14.4 21 Z" fill="url(#civg)"/>
<path d="M14.3 22.4 Q14.3 30 20 31.6 Q25.7 30 25.7 22.4 Q25 25.6 23 25.2 Q20 24 17 25.2 Q15 25.6 14.3 22.4 Z" fill="#33201f"/>
<path d="M17.4 25.6 Q20 28.2 22.8 25.6 Q20 26.4 17.4 25.6 Z" fill="#fff" stroke="#fff" stroke-width="0.8"/>
<path d="M16.4 20 H18.8 M21.2 20 H23.6" stroke="#2a1a1a" stroke-width="1"/>
</g></g></svg>
<div class="t" style="left:357px;top:670px;font-size:15.8px;font-weight:400;color:#343a46;letter-spacing:0.733px;">Ivan</div>
<div style="position:absolute;left:310.10px;top:710.70px;width:212.00px;height:11.70px;background:#f3f2fd;border-radius:4px"></div>
<div style="position:absolute;left:313.10px;top:713.60px;width:37.70px;height:6.00px;background:#8a7fe9;border-radius:3px"></div>
<svg style="position:absolute;left:309.00px;top:737.90px;" width="24" height="14" viewBox="0 0 24 14"><g fill="none" stroke="#8e939c" stroke-width="1.5" stroke-linecap="round" stroke-linejoin="round"><path d="M10.4 5 V9.8 Q10.4 11.8 8.4 11.8 H3.6 Q1.6 11.8 1.6 9.8 V4.4 Q1.6 2.4 3.6 2.4 H8.4"/><path d="M4.2 6.8 L6 8.6 L10.6 3.4"/><path d="M14 5.8 H20.4 M14 9.2 H20.4"/></g></svg>
<div class="t" style="left:336px;top:739px;font-size:13.75px;font-weight:400;color:#8e939c;letter-spacing:0.460px;">Other tasks</div>
<div style="position:absolute;left:308.30px;top:786.70px;width:36.60px;height:36.60px;background:#f2f3f5;border-radius:50%"></div>
<svg style="position:absolute;left:316.60px;top:795.00px;" width="20" height="20" viewBox="0 0 20 20"><g fill="none" stroke="#8e939c" stroke-width="1.4" stroke-linecap="round"><circle cx="10" cy="5.6" r="3.4"/><path d="M2.6 15.2 Q3.4 10.2 10 10.2 Q16.6 10.2 17.4 15.2"/><path d="M8.4 14 L11.6 17.2 M11.6 14 L8.4 17.2" stroke-width="1.2"/></g></svg>
<div class="t" style="left:357px;top:796px;font-size:16.2px;font-weight:400;color:#343a46;letter-spacing:0.750px;">Unasigned</div>
<svg style="position:absolute;left:83.41px;top:789.21px;" width="42.37837837837838" height="42.37837837837838" viewBox="0 0 40 40"><defs><clipPath id="cw2"><circle cx="20" cy="20" r="18.5"/></clipPath>
<filter id="cw2b" x="-10%" y="-10%" width="120%" height="120%"><feGaussianBlur stdDeviation="0.55"/></filter>
<radialGradient id="cw2g" cx="0.48" cy="0.3" r="0.7"><stop offset="0" stop-color="#b4775a"/><stop offset="0.55" stop-color="#99593f"/><stop offset="1" stop-color="#7c4632"/></radialGradient></defs>
<circle cx="20" cy="20" r="18.5" fill="#fdf1d6"/>
<g clip-path="url(#cw2)"><g filter="url(#cw2b)">
<path d="M8 40 Q9 32.4 15.4 31 L21.6 35.6 L27.6 30.6 Q33 32 34 40 Z" fill="#edf0da"/>
<path d="M16.6 27 L16.2 32 L21.4 37.4 L26.8 31.6 L26.4 26 Z" fill="#86493a"/>
<path d="M17 36.4 L20.4 34.8 L21.6 37.4 L19 38.6 Z M25 35.6 L28.6 34.4 L28.2 37 L25.4 37.6 Z" fill="#8fa3d9"/>
<path d="M10.6 17.4 Q9.4 8 15 5.4 Q20 3.4 25 5.4 Q30.6 8 29.2 17.4 Q27.6 18.4 20 18 Q12.4 18.4 10.6 17.4 Z" fill="#1f1a1e"/>
<ellipse cx="12" cy="19.4" rx="1.3" ry="2.2" fill="#8a4f39"/><ellipse cx="28.2" cy="19.4" rx="1.3" ry="2.2" fill="#8a4f39"/>
<path d="M12.6 16 Q13 10 20 9.8 Q27 10 27.6 16 L27.6 22 Q27 30.4 20.2 30.6 Q13.2 30.4 12.6 22 Z" fill="url(#cw2g)"/>
<path d="M12.7 19 Q12.6 26.6 15.6 29.2 Q20.2 32 24.8 29.2 Q27.6 26.6 27.6 19 Q26.8 22.6 24.6 22.2 Q20.2 20.4 15.6 22.2 Q13.4 22.6 12.7 19 Z" fill="#2b1f22" opacity="0.93"/>
<path d="M17.6 23.2 Q20.2 26 23 23.2 Q20.2 23.8 17.6 23.2 Z" fill="#fff" stroke="#fff" stroke-width="0.9"/>
<path d="M15 16.2 Q16.8 15.2 18.6 16.2 M21.8 16.2 Q23.6 15.2 25.4 16.2" stroke="#3a2220" stroke-width="1.1" fill="none" opacity="0.85"/>
<ellipse cx="20" cy="19.4" rx="1.2" ry="1" fill="#c98566" opacity="0.7"/>
</g></g></svg>
<div style="position:absolute;left:56.80px;top:790.60px;width:40.00px;height:40.00px;border-radius:50%;opacity:0.95;background:linear-gradient(100deg,#e02fd2 0%,#ea3cc0 26%,#f7707c 46%,#ffa22a 63%,#ffab1c 100%)"></div>
<div style="position:absolute;left:56.80px;top:790.60px;width:40.00px;height:40.00px;border-radius:50%;opacity:0.95;background:linear-gradient(100deg,#8a2ee0 0%,#7a38e2 35%,#6c6cf2 60%,#5592fb 80%,#4f9cff 100%);-webkit-mask-image:linear-gradient(172deg,rgba(0,0,0,0) 28%,rgba(0,0,0,0.5) 53%,#000 78%);mask-image:linear-gradient(172deg,rgba(0,0,0,0) 28%,rgba(0,0,0,0.5) 53%,#000 78%)"></div>
<div class="t" style="left:71px;top:802px;font-size:18px;font-weight:700;color:#fff;">S</div>
<svg style="position:absolute;left:129.00px;top:806.00px;" width="10" height="8" viewBox="0 0 10 8"><path d="M1 2.2 H9 L5 7 Z" fill="#b7bac0"/></svg>
</div></div>
</body></html>
